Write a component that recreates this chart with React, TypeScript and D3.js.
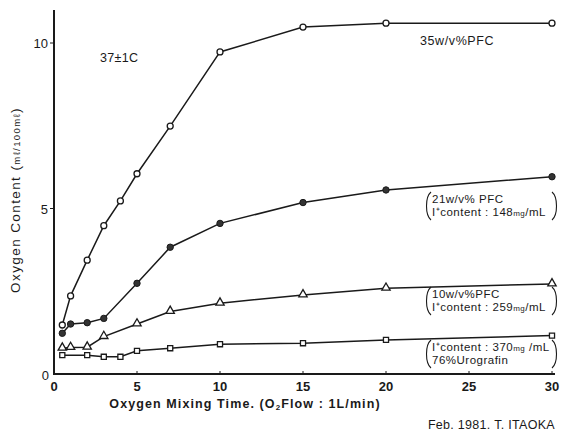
import React from "react";
import * as d3 from "d3";

// Mixing time (min) for each series
const timesPFC35 = [0.5, 1, 2, 3, 4, 5, 7, 10, 15, 20, 30];
const valuesPFC35 = [1.48, 2.36, 3.44, 4.48, 5.23, 6.05, 7.49, 9.73, 10.48, 10.6, 10.6];

const timesPFC21 = [0.5, 1, 2, 3, 5, 7, 10, 15, 20, 30];
const valuesPFC21 = [1.23, 1.51, 1.55, 1.68, 2.74, 3.83, 4.55, 5.18, 5.56, 5.96];

const timesPFC10 = [0.5, 1, 2, 3, 5, 7, 10, 15, 20, 30];
const valuesPFC10 = [0.78, 0.8, 0.81, 1.13, 1.51, 1.89, 2.14, 2.39, 2.59, 2.72];

const timesUro = [0.5, 2, 3, 4, 5, 7, 10, 15, 20, 30];
const valuesUro = [0.57, 0.57, 0.52, 0.52, 0.7, 0.78, 0.9, 0.93, 1.03, 1.16];

const xTicks = [0, 5, 10, 15, 20, 25, 30];
const yTicks = [0, 5, 10];

const W = 564;
const H = 441;

const x = d3.scaleLinear().domain([0, 30]).range([54, 552]);
const y = d3.scaleLinear().domain([0, 10]).range([374, 43]);

const line = d3
  .line<[number, number]>()
  .x((d) => x(d[0]))
  .y((d) => y(d[1]));

const zip = (a: number[], b: number[]) => a.map((v, i) => [v, b[i]] as [number, number]);

const FONT = "'Liberation Sans Narrow', 'Liberation Sans', Arial, sans-serif";
const INK = "#1a1a1a";

type Marker = "openCircle" | "filledCircle" | "triangle" | "square";

const triPath = d3.symbol(d3.symbolTriangle, 30)() as string;
const sqPath = d3.symbol(d3.symbolSquare, 26)() as string;

function Mark({ kind, cx, cy }: { kind: Marker; cx: number; cy: number }) {
  if (kind === "openCircle")
    return <circle cx={cx} cy={cy} r={3} fill="#fff" stroke={INK} strokeWidth={1.3} />;
  if (kind === "filledCircle")
    return <circle cx={cx} cy={cy} r={3.2} fill="#333" stroke={INK} strokeWidth={1} />;
  if (kind === "triangle")
    return (
      <path d={triPath} transform={`translate(${cx},${cy - 0.5})`} fill="#fff" stroke={INK} strokeWidth={1.3} />
    );
  return <path d={sqPath} transform={`translate(${cx},${cy})`} fill="#fff" stroke={INK} strokeWidth={1.3} />;
}

const series: { pts: [number, number][]; kind: Marker }[] = [
  { pts: zip(timesPFC35, valuesPFC35), kind: "openCircle" },
  { pts: zip(timesPFC21, valuesPFC21), kind: "filledCircle" },
  { pts: zip(timesPFC10, valuesPFC10), kind: "triangle" },
  { pts: zip(timesUro, valuesUro), kind: "square" },
];

function Bracketed({ x0, x1, yTop, lines }: { x0: number; x1: number; yTop: number; lines: React.ReactNode[] }) {
  const h = 28;
  return (
    <g>
      <path
        d={`M${x0 + 5},${yTop} C${x0 - 1},${yTop + 5} ${x0 - 1},${yTop + h - 5} ${x0 + 5},${yTop + h}`}
        fill="none"
        stroke={INK}
        strokeWidth={1.1}
      />
      <path
        d={`M${x1 - 5},${yTop} C${x1 + 1},${yTop + 5} ${x1 + 1},${yTop + h - 5} ${x1 - 5},${yTop + h}`}
        fill="none"
        stroke={INK}
        strokeWidth={1.1}
      />
      {lines.map((l, i) => (
        <text
          key={i}
          x={x0 + 6}
          y={yTop + 11 + i * 12.5}
          fontSize={11.5}
          fontFamily={FONT}
          fill={INK}
          letterSpacing={0.5}
        >
          {l}
        </text>
      ))}
    </g>
  );
}

export default function App() {
  return (
    <svg
      width={W}
      height={H}
      viewBox={`0 0 ${W} ${H}`}
      style={{ position: "absolute", left: 0, top: 0, background: "#fff" }}
    >
      <rect width={W} height={H} fill="#fff" />

      {/* axes */}
      <line x1={x(0)} x2={x(0)} y1={10} y2={y(0) + 1} stroke={INK} strokeWidth={2} />
      <line x1={x(0) - 1} x2={x(30) + 3} y1={y(0)} y2={y(0)} stroke={INK} strokeWidth={2} />

      {yTicks.map((t) => (
        <g key={`y${t}`}>
          {t !== 0 && <line x1={x(0) - 4} x2={x(0)} y1={y(t)} y2={y(t)} stroke={INK} strokeWidth={1} />}
          <text
            x={x(0) - (t === 0 ? 5 : 6)}
            y={y(t) + (t === 0 ? 6 : 5)}
            textAnchor="end"
            fontSize={13}
            fontFamily={FONT}
            fill={INK}
          >
            {t}
          </text>
        </g>
      ))}

      {xTicks.map((t) => (
        <g key={`x${t}`}>
          {t !== 0 && <line x1={x(t)} x2={x(t)} y1={y(0) - 3} y2={y(0)} stroke={INK} strokeWidth={1} />}
          <text
            x={x(t)}
            y={y(0) + 17}
            textAnchor="middle"
            fontSize={13}
            fontWeight="bold"
            fontFamily={FONT}
            fill={INK}
          >
            {t}
          </text>
        </g>
      ))}

      {/* axis titles */}
      <text x={245} y={408} textAnchor="middle" fontSize={12.5} fontWeight="bold" fontFamily={FONT} fill={INK} letterSpacing={1.1}>
        Oxygen  Mixing  Time. (O
        <tspan fontSize={8} dy={2}>2</tspan>
        <tspan dy={-2}>Flow : 1L/min)</tspan>
      </text>
      <text
        transform="translate(20,200) rotate(-90)"
        textAnchor="middle"
        fontSize={13.5}
        fontFamily={FONT}
        fill={INK}
        letterSpacing={1.4}
      >
        Oxygen  Content (<tspan fontSize={9.5}>mℓ/100mℓ</tspan>)
      </text>

      {/* series */}
      {series.map((s, i) => (
        <g key={i}>
          <path d={line(s.pts) as string} fill="none" stroke={INK} strokeWidth={1.5} />
          {s.pts.map((p, j) => (
            <Mark key={j} kind={s.kind} cx={x(p[0])} cy={y(p[1])} />
          ))}
        </g>
      ))}

      {/* annotations */}
      <text x={100} y={62} fontSize={12.5} fontFamily={FONT} fill={INK} letterSpacing={0.3}>
        37±1C
      </text>
      <text x={420} y={45} fontSize={12.5} fontFamily={FONT} fill={INK} letterSpacing={0.6}>
        35w/v%PFC
      </text>

      <Bracketed
        x0={426}
        x1={557}
        yTop={192}
        lines={[
          "21w/v% PFC",
          <>
            I⁺content : 148<tspan fontSize={8}>mg</tspan>/mL
          </>,
        ]}
      />
      <Bracketed
        x0={426}
        x1={557}
        yTop={287}
        lines={[
          "10w/v%PFC",
          <>
            I⁺content : 259<tspan fontSize={8}>mg</tspan>/mL
          </>,
        ]}
      />
      <Bracketed
        x0={426}
        x1={557}
        yTop={340}
        lines={[
          <>
            I⁺content : 370<tspan fontSize={8}>mg</tspan> /mL
          </>,
          "76%Urografin",
        ]}
      />

      <text x={555} y={429} textAnchor="end" fontSize={12.5} fontFamily={FONT} fill={INK} letterSpacing={0.3}>
        Feb.  1981.  T. ITAOKA
      </text>
    </svg>
  );
}
